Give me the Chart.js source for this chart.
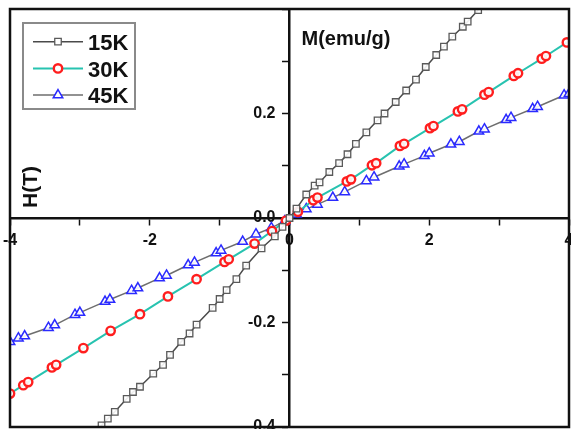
<!DOCTYPE html>
<html>
<head>
<meta charset="utf-8">
<script src="https://cdn.jsdelivr.net/npm/chart.js"></script>
<style>
  html, body { margin: 0; padding: 0; background: #fff; }
  #wrap { width: 571px; height: 429px; }
</style>
</head>
<body>
<div id="wrap"><canvas id="mhChart" width="571" height="429"></canvas></div>
<script>
// series names
var seriesNames = ["15K", "30K", "45K"];

// 15K
var h15 = [-3.0, -2.69, -2.60, -2.50, -2.33, -2.24, -2.14, -1.95, -1.81, -1.71, -1.55, -1.43, -1.33, -1.10, -1.00, -0.90, -0.76, -0.62, -0.40, -0.21, -0.10, 0,
           0.10, 0.24, 0.36, 0.43, 0.57, 0.71, 0.83, 0.95, 1.10, 1.26, 1.36, 1.52, 1.67, 1.81, 1.95, 2.10, 2.21, 2.33, 2.48, 2.55, 2.70, 3.0];
var m15 = [-0.45, -0.397, -0.384, -0.371, -0.346, -0.333, -0.323, -0.298, -0.281, -0.262, -0.237, -0.221, -0.204, -0.172, -0.155, -0.138, -0.117, -0.091, -0.058, -0.035, -0.017, 0,
           0.018, 0.045, 0.062, 0.068, 0.088, 0.105, 0.122, 0.142, 0.164, 0.187, 0.200, 0.222, 0.244, 0.265, 0.289, 0.312, 0.328, 0.347, 0.366, 0.376, 0.398, 0.45];

// 30K
var h30 = [-4.0, -3.81, -3.74, -3.40, -3.34, -2.95, -2.56, -2.14, -1.74, -1.33, -0.93, -0.87, -0.50, -0.25, -0.05,
           0.12, 0.34, 0.40, 0.82, 0.88, 1.18, 1.24, 1.58, 1.64, 2.01, 2.06, 2.41, 2.47, 2.79, 2.85, 3.21, 3.27, 3.61, 3.67, 3.97];
var m30 = [-0.336, -0.320, -0.314, -0.286, -0.281, -0.249, -0.216, -0.184, -0.150, -0.117, -0.084, -0.079, -0.049, -0.025, -0.005,
           0.012, 0.034, 0.039, 0.070, 0.074, 0.101, 0.105, 0.138, 0.142, 0.172, 0.176, 0.204, 0.208, 0.236, 0.241, 0.272, 0.277, 0.305, 0.310, 0.336];

// 45K
var h45 = [-4.0, -3.88, -3.79, -3.45, -3.36, -3.07, -3.00, -2.64, -2.57, -2.26, -2.17, -1.86, -1.76, -1.45, -1.36, -1.05, -0.98, -0.67, -0.48, -0.26, -0.07,
           0.10, 0.24, 0.40, 0.62, 0.79, 1.10, 1.21, 1.57, 1.64, 1.93, 2.00, 2.31, 2.43, 2.71, 2.79, 3.10, 3.17, 3.48, 3.55, 3.93, 4.0];
var m45 = [-0.237, -0.230, -0.226, -0.210, -0.205, -0.185, -0.181, -0.160, -0.156, -0.139, -0.134, -0.115, -0.110, -0.090, -0.085, -0.067, -0.062, -0.045, -0.031, -0.019, -0.006,
           0.007, 0.017, 0.026, 0.039, 0.050, 0.071, 0.078, 0.099, 0.103, 0.119, 0.124, 0.141, 0.146, 0.166, 0.170, 0.188, 0.192, 0.209, 0.213, 0.235, 0.238];

// tick labels
var xTickLabels = [-4, -2, 0, 2, 4];
var yTickLabels = [-0.4, -0.2, 0.0, 0.2];

var xTitle = "H(T)";
var yTitle = "M(emu/g)";

function toPoints(hs, ms) {
    return hs.map(function(h, i) { return { x: h, y: ms[i] }; });
}

var fontFam = '"Liberation Sans", Arial, sans-serif';

var styles = [
    { line: "#4a4a4a", width: 1.5, pointStyle: "rect", radius: 4.6, border: "#5a5a5a", bw: 1.3 },
    { line: "#27c3b0", width: 2, pointStyle: "circle", radius: 4.2, border: "#ff1e1e", bw: 2.4 },
    { line: "#6e6e6e", width: 1.5, pointStyle: "triangle", radius: 5.5, border: "#2a2aff", bw: 1.5 }
];

var allData = [toPoints(h15, m15), toPoints(h30, m30), toPoints(h45, m45)];

var datasets = seriesNames.map(function(name, i) {
    var s = styles[i];
    return {
        label: name,
        data: allData[i],
        showLine: true,
        borderColor: s.line,
        borderWidth: s.width,
        pointStyle: s.pointStyle,
        pointRadius: s.radius,
        pointBorderColor: s.border,
        pointBackgroundColor: "rgba(255,255,255,0.9)",
        pointBorderWidth: s.bw,
        tension: 0
    };
});

function hasLabel(list, v) {
    return list.some(function(t) { return Math.abs(t - v) < 1e-6; });
}

// centred y axis draws its labels right on the axis line, push them left
function shiftYLabels(scale) {
    if (scale._shifted) return;
    var orig = scale.drawLabels;
    scale.drawLabels = function(area) {
        this.ctx.save();
        this.ctx.translate(-14, 0);
        orig.call(this, area);
        this.ctx.restore();
    };
    scale._shifted = true;
}

// frame, axis titles, legend
var extras = {
    id: "extras",
    afterDraw: function(chart) {
        var ctx = chart.ctx;
        var a = chart.chartArea;
        var xs = chart.scales.x, ys = chart.scales.y;
        ctx.save();

        // outer frame
        ctx.strokeStyle = "#111";
        ctx.lineWidth = 2.5;
        ctx.strokeRect(a.left, a.top, a.right - a.left, a.bottom - a.top);

        // titles
        ctx.fillStyle = "#111";
        ctx.font = "bold 20px " + fontFam;
        ctx.textAlign = "left";
        ctx.textBaseline = "alphabetic";
        ctx.fillText(yTitle, xs.getPixelForValue(0) + 12, a.top + 36);

        ctx.save();
        ctx.translate(a.left + 27, ys.getPixelForValue(0) - 10);
        ctx.rotate(-Math.PI / 2);
        ctx.font = "bold 21px " + fontFam;
        ctx.fillText(xTitle, 0, 0);
        ctx.restore();

        // legend box
        var bx = a.left + 13, by = a.top + 14;
        ctx.strokeStyle = "#8a8a8a";
        ctx.lineWidth = 2;
        ctx.strokeRect(bx, by, 112, 86);
        ctx.font = "bold 22px " + fontFam;
        seriesNames.forEach(function(name, i) {
            var s = styles[i];
            var cy = by + 18.7 + i * 26.7;
            ctx.strokeStyle = s.line;
            ctx.lineWidth = s.width;
            ctx.beginPath();
            ctx.moveTo(bx + 10, cy);
            ctx.lineTo(bx + 60, cy);
            ctx.stroke();
            ctx.fillStyle = "#fff";
            ctx.strokeStyle = s.border;
            ctx.lineWidth = s.bw;
            Chart.helpers.drawPoint(ctx, { pointStyle: s.pointStyle, radius: s.radius, borderWidth: s.bw, rotation: 0 }, bx + 35, cy);
            ctx.fillStyle = "#111";
            ctx.fillText(name, bx + 65, cy + 8.3);
        });
        ctx.restore();
    }
};

var ctx = document.getElementById("mhChart").getContext("2d");
var mhChart = new Chart(ctx, {
    type: "scatter",
    data: { datasets: datasets },
    plugins: [extras],
    options: {
        responsive: false,
        animation: false,
        layout: { autoPadding: false, padding: { left: 10, right: 2, top: 9, bottom: 2 } },
        plugins: { legend: { display: false }, tooltip: { enabled: false } },
        scales: {
            x: {
                type: "linear",
                position: { y: 0 },
                min: -4,
                max: 4,
                border: { display: true, color: "#111", width: 2.5 },
                grid: { drawOnChartArea: false, drawTicks: true, tickLength: 6, tickColor: "#111", tickWidth: 1.5 },
                ticks: {
                    stepSize: 1,
                    autoSkip: false,
                    maxRotation: 0,
                    padding: 7,
                    color: "#111",
                    font: { family: fontFam, size: 16, weight: "bold" },
                    callback: function(v) { return hasLabel(xTickLabels, v) ? String(Math.round(v)) : ""; }
                },
                afterFit: function(scale) { scale.height = 0; scale.paddingLeft = 0; scale.paddingRight = 0; }
            },
            y: {
                type: "linear",
                position: { x: 0 },
                min: -0.4,
                max: 0.4,
                border: { display: true, color: "#111", width: 2.5 },
                grid: { drawOnChartArea: false, drawTicks: true, tickLength: 6, tickColor: "#111", tickWidth: 1.5 },
                ticks: {
                    stepSize: 0.1,
                    autoSkip: false,
                    padding: 8,
                    color: "#111",
                    font: { family: fontFam, size: 16, weight: "bold" },
                    callback: function(v) { return hasLabel(yTickLabels, v) ? v.toFixed(1) : ""; }
                },
                afterFit: function(scale) { scale.width = 0; scale.paddingTop = 0; scale.paddingBottom = 0; },
                afterUpdate: shiftYLabels
            }
        }
    }
});
</script>
</body>
</html>
